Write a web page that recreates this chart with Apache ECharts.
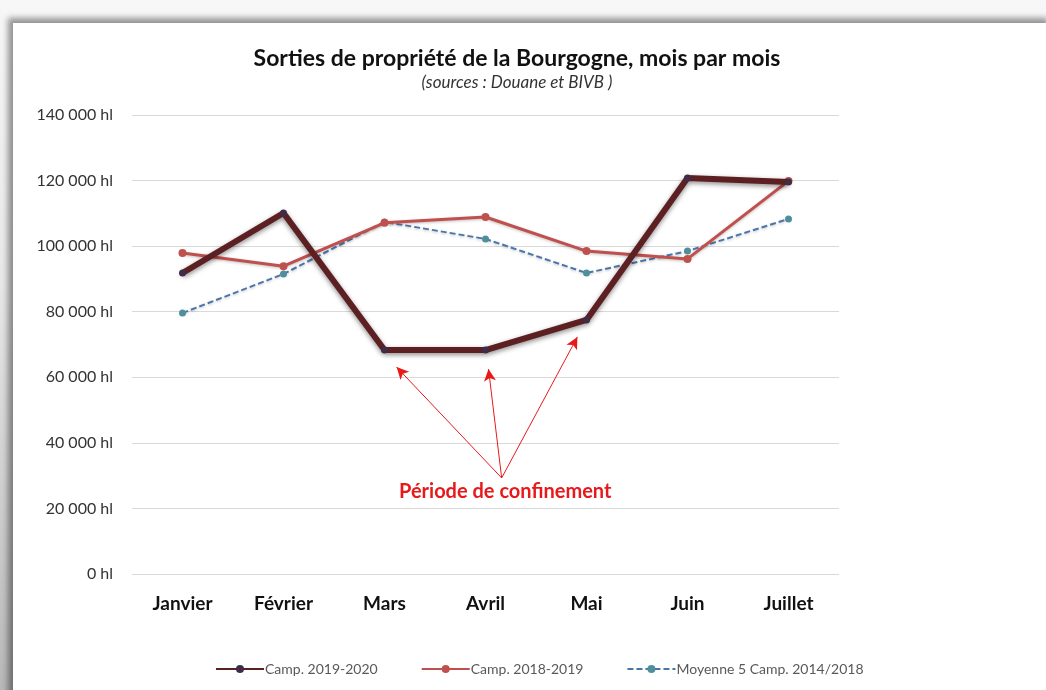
<!DOCTYPE html>
<html>
<head>
<meta charset="utf-8">
<script src="https://cdn.jsdelivr.net/npm/echarts@6/dist/echarts.min.js"></script>
<style>
	html, body { margin: 0; padding: 0; }
	body {
		width: 1046px; height: 690px; overflow: hidden;
		background: linear-gradient(#f7f7f7, #e8e8e8 40%, #b8b8b8);
		position: relative;
	}
	#frame {
		position: absolute; left: 13px; top: 23px; width: 1040px; height: 680px;
		background: #fff;
		box-shadow: -5px -5px 6px rgba(0, 0, 0, 0.4);
	}
	#chart { position: absolute; left: -13px; top: -23px; width: 1046px; height: 690px; }
</style>
</head>
<body>
<div id="frame"><div id="chart"></div></div>
<script>
	// données
	var mois = ['Janvier', 'Février', 'Mars', 'Avril', 'Mai', 'Juin', 'Juillet'];
	var camp2019 = [91800, 110100, 68300, 68300, 77500, 120800, 119600];
	var camp2018 = [97900, 93900, 107100, 108900, 98500, 96100, 119900];
	var moyenne5 = [79600, 91500, 107400, 102200, 91800, 98500, 108300];

	// flèches "Période de confinement" (position en index de mois / valeur)
	var flecheDepart = [3.16, 29300];
	var flecheCibles = [[2.12, 63100], [3.03, 62500], [3.91, 72300]];

	var chart = echarts.init(document.getElementById('chart'));
	var font = 'Lato, "Open Sans", sans-serif';

	chart.setOption({
		animation: false,
		textStyle: { fontFamily: font },
		title: {
			text: 'Sorties de propriété de la Bourgogne, mois par mois',
			subtext: '(sources : Douane et BIVB )',
			left: 512,
			top: 42,
			textAlign: 'center',
			itemGap: 4,
			textStyle: { fontFamily: font, fontSize: 23, fontWeight: 'bold', color: '#111' },
			subtextStyle: { fontFamily: font, fontSize: 17, fontStyle: 'italic', color: '#333' }
		},
		legend: {
			bottom: 9,
			left: 210,
			itemGap: 43,
			itemWidth: 48,
			itemHeight: 10,
			textStyle: { fontFamily: font, fontSize: 14, color: '#595959', padding: [0, 0, 0, -4] },
			data: ['Camp. 2019-2020', 'Camp. 2018-2019', 'Moyenne 5 Camp. 2014/2018']
		},
		grid: { left: 132, right: 207, top: 115, bottom: 116 },
		xAxis: [{
			type: 'category',
			data: mois,
			axisLine: { show: false },
			axisTick: { show: false },
			axisLabel: { fontFamily: font, fontSize: 19, fontWeight: 'bold', color: '#111', margin: 20 }
		}, {
			type: 'value',
			min: -0.5,
			max: 6.5,
			show: false
		}],
		yAxis: {
			type: 'value',
			min: 0,
			max: 140000,
			interval: 20000,
			axisLine: { show: false },
			axisTick: { show: false },
			axisLabel: {
				fontFamily: font, fontSize: 16, color: '#333', margin: 19,
				formatter: function (v) {
					return String(v).replace(/\B(?=(\d{3})+(?!\d))/g, ' ') + ' hl';
				}
			},
			splitLine: { lineStyle: { color: '#d9d9d9', width: 1 } }
		},
		series: [{
			name: 'Camp. 2019-2020',
			type: 'line',
			data: camp2019,
			z: 4,
			symbol: 'circle',
			symbolSize: 7,
			itemStyle: { color: '#3f2c48' },
			lineStyle: {
				color: '#5c1f22', width: 6,
				shadowBlur: 5, shadowColor: 'rgba(0,0,0,0.45)', shadowOffsetY: 2
			}
		}, {
			name: 'Camp. 2018-2019',
			type: 'line',
			data: camp2018,
			z: 3,
			symbol: 'circle',
			symbolSize: 8,
			itemStyle: { color: '#c0504d' },
			lineStyle: {
				color: '#c0504d', width: 3,
				shadowBlur: 3, shadowColor: 'rgba(0,0,0,0.25)', shadowOffsetY: 1
			}
		}, {
			name: 'Moyenne 5 Camp. 2014/2018',
			type: 'line',
			data: moyenne5,
			z: 2,
			symbol: 'circle',
			symbolSize: 7,
			itemStyle: { color: '#4f8f9c' },
			lineStyle: {
				color: '#4a75a8', width: 2, type: [6, 3],
				shadowBlur: 3, shadowColor: 'rgba(0,0,0,0.25)', shadowOffsetY: 1
			}
		}, {
			type: 'line',
			xAxisIndex: 1,
			data: [],
			silent: true,
			markLine: {
				silent: true,
				symbol: ['none', 'arrow'],
				symbolSize: [9, 12],
				label: { show: false },
				lineStyle: { color: '#e8191b', width: 1, type: 'solid' },
				data: flecheCibles.map(function (c) {
					return [{ coord: flecheDepart }, { coord: c }];
				})
			}
		}],
		graphic: [{
			type: 'text',
			left: 399,
			top: 482,
			style: {
				text: 'Période de confinement',
				font: 'bold 20px ' + font,
				fill: '#e8191b'
			}
		}]
	});
</script>
</body>
</html>
